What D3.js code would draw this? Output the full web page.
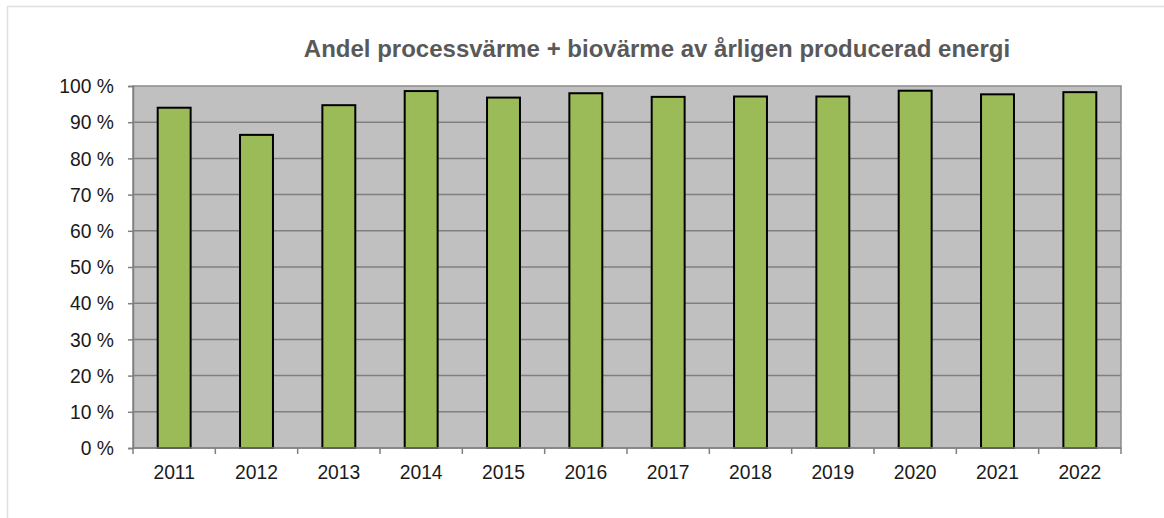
<!DOCTYPE html>
<html>
<head>
<meta charset="utf-8">
<script src="https://cdn.jsdelivr.net/npm/d3@7"></script>
<style>
  body { margin: 0; background: #fff; }
  svg { display: block; font-family: "Liberation Sans", Arial, sans-serif; }
</style>
</head>
<body>
<svg id="chart" width="1164" height="518"></svg>
<script>
// data
var years = ["2011", "2012", "2013", "2014", "2015", "2016", "2017", "2018", "2019", "2020", "2021", "2022"];
var shares = [94, 86.5, 94.7, 98.6, 96.8, 98.0, 97.0, 97.1, 97.1, 98.7, 97.7, 98.3];
var yTicks = [0, 10, 20, 30, 40, 50, 60, 70, 80, 90, 100];
var title = "Andel processvärme + biovärme av årligen producerad energi";

var svg = d3.select("#chart");
var margin = {left: 133, top: 86, right: 43, bottom: 70};
var W = 1164, H = 518;

var x = d3.scaleBand()
  .domain(years)
  .range([margin.left, W - margin.right])
  .paddingInner(0.6)
  .paddingOuter(0.3);

var y = d3.scaleLinear()
  .domain([0, 100])
  .range([H - margin.bottom, margin.top]);

// outer frame (only top and left visible)
svg.append("line").attr("x1", 7).attr("x2", W).attr("y1", 6.5).attr("y2", 6.5)
  .attr("stroke", "#e0e0e0").attr("stroke-width", 1.5);
svg.append("line").attr("x1", 7.5).attr("x2", 7.5).attr("y1", 6).attr("y2", H)
  .attr("stroke", "#e0e0e0").attr("stroke-width", 1.5);

svg.append("text")
  .attr("x", 657).attr("y", 57)
  .attr("text-anchor", "middle")
  .attr("font-size", 24).attr("font-weight", "bold")
  .attr("fill", "#595959")
  .text(title);

// plot background
svg.append("rect")
  .attr("x", margin.left).attr("y", margin.top)
  .attr("width", W - margin.right - margin.left)
  .attr("height", H - margin.bottom - margin.top)
  .attr("fill", "#c0c0c0");

// gridlines
svg.append("g").selectAll("line").data(yTicks.slice(1, -1)).join("line")
  .attr("x1", margin.left).attr("x2", W - margin.right)
  .attr("y1", function(d){ return y(d); }).attr("y2", function(d){ return y(d); })
  .attr("stroke", "#808080").attr("stroke-width", 1.5);

svg.append("rect")
  .attr("x", margin.left).attr("y", margin.top)
  .attr("width", W - margin.right - margin.left)
  .attr("height", H - margin.bottom - margin.top)
  .attr("fill", "none").attr("stroke", "#8a8a8a").attr("stroke-width", 1.5);

// bars
svg.append("g").selectAll("rect").data(shares).join("rect")
  .attr("x", function(d, i){ return x(years[i]); })
  .attr("width", x.bandwidth())
  .attr("y", function(d){ return y(d); })
  .attr("height", function(d){ return y(0) - y(d); })
  .attr("fill", "#9bbb59")
  .attr("stroke", "#000").attr("stroke-width", 2);

// y axis
var yAxis = svg.append("g")
  .attr("transform", "translate(" + margin.left + ",0)")
  .call(d3.axisLeft(y).tickValues(yTicks).tickSize(5).tickPadding(14)
    .tickFormat(function(d){ return d + " %"; }));
yAxis.select(".domain").attr("stroke", "#808080").attr("stroke-width", 1.5);
yAxis.selectAll(".tick line").attr("stroke", "#808080").attr("stroke-width", 1.5);
yAxis.selectAll("text").attr("font-size", 19.3).attr("fill", "#1a1a1a")
  .attr("font-family", "Liberation Sans, Arial, sans-serif").attr("dy", "0.35em");

// x axis with ticks on category boundaries
var bounds = d3.range(years.length + 1).map(function(i){ return margin.left + (W - margin.right - margin.left) * i / years.length; });
var xAxis = svg.append("g").attr("transform", "translate(0," + y(0) + ")");
xAxis.append("line").attr("x1", margin.left).attr("x2", W - margin.right)
  .attr("stroke", "#808080").attr("stroke-width", 1.5);
xAxis.selectAll("line.tk").data(bounds).join("line").attr("class", "tk")
  .attr("x1", function(d){ return d; }).attr("x2", function(d){ return d; })
  .attr("y1", 0).attr("y2", 6)
  .attr("stroke", "#808080").attr("stroke-width", 1.5);
xAxis.selectAll("text").data(years).join("text")
  .attr("x", function(d){ return x(d) + x.bandwidth() / 2; })
  .attr("y", 31)
  .attr("text-anchor", "middle")
  .attr("font-size", 19.3).attr("fill", "#1a1a1a")
  .text(function(d){ return d; });
</script>
</body>
</html>
